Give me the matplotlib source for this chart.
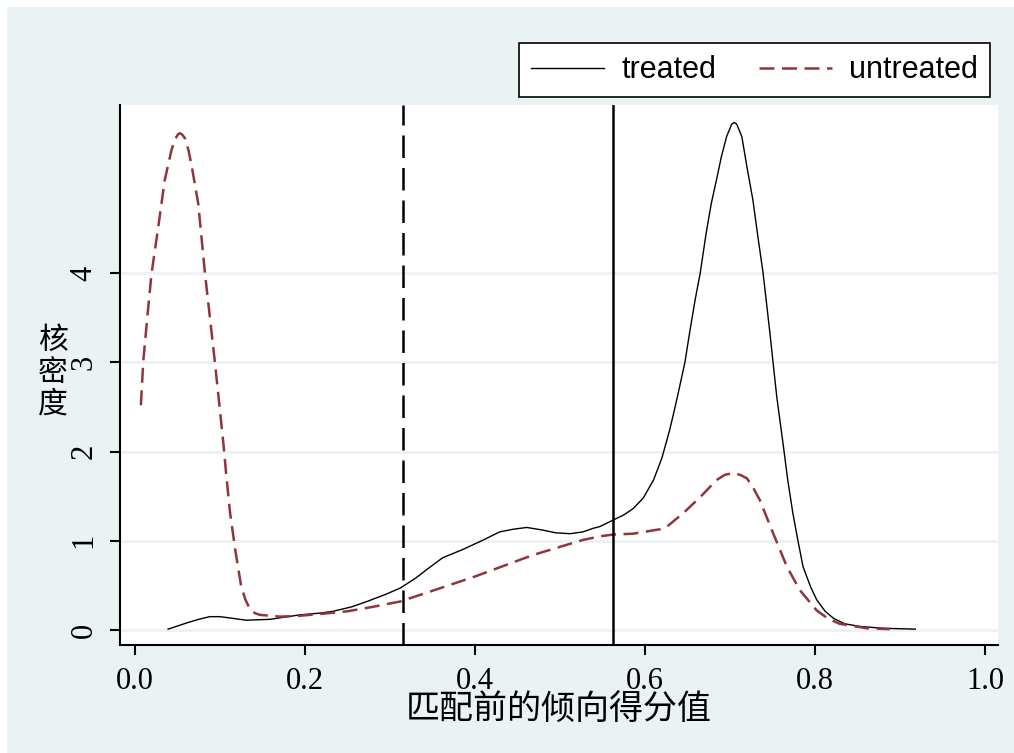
import numpy as np
import matplotlib.pyplot as plt
from matplotlib.patches import Rectangle

# kernel density
treated_x = [0.039, 0.061, 0.075, 0.088, 0.100, 0.108, 0.131, 0.159, 0.194, 0.218,
             0.233, 0.255, 0.273, 0.295, 0.312, 0.330, 0.345, 0.362, 0.385, 0.410,
             0.429, 0.445, 0.461, 0.480, 0.495, 0.512, 0.527, 0.539, 0.547, 0.562,
             0.575, 0.586, 0.598, 0.610, 0.620, 0.629, 0.634, 0.639, 0.647, 0.653,
             0.659, 0.665, 0.672, 0.678, 0.684, 0.690, 0.696, 0.702, 0.705, 0.708,
             0.714, 0.720, 0.727, 0.733, 0.739, 0.747, 0.755, 0.763, 0.768, 0.774,
             0.780, 0.786, 0.795, 0.802, 0.812, 0.822, 0.835, 0.853, 0.880, 0.918]
treated_y = [0.01, 0.08, 0.12, 0.15, 0.15, 0.14, 0.11, 0.12, 0.17, 0.19,
             0.21, 0.26, 0.32, 0.40, 0.47, 0.58, 0.69, 0.81, 0.90, 1.01,
             1.10, 1.13, 1.15, 1.12, 1.09, 1.08, 1.10, 1.14, 1.16, 1.23,
             1.29, 1.36, 1.48, 1.68, 1.93, 2.24, 2.44, 2.65, 3.00, 3.36,
             3.70, 4.00, 4.45, 4.78, 5.04, 5.31, 5.53, 5.67, 5.69, 5.67,
             5.53, 5.19, 4.82, 4.40, 4.00, 3.33, 2.62, 2.05, 1.68, 1.31,
             1.00, 0.71, 0.48, 0.34, 0.21, 0.13, 0.07, 0.04, 0.02, 0.01]

untreated_x = [0.007, 0.0098, 0.015, 0.0196, 0.0275, 0.035, 0.043, 0.047, 0.051, 0.053,
               0.056, 0.059, 0.063, 0.067, 0.0745, 0.0824, 0.094, 0.104, 0.108, 0.112,
               0.118, 0.125, 0.130, 0.135, 0.141, 0.147, 0.171, 0.194, 0.218, 0.250,
               0.280, 0.312, 0.350, 0.400, 0.468, 0.527, 0.547, 0.562, 0.586, 0.618,
               0.626, 0.645, 0.665, 0.684, 0.694, 0.704, 0.712, 0.720, 0.727, 0.735,
               0.751, 0.767, 0.782, 0.802, 0.815, 0.829, 0.861, 0.888]
untreated_y = [2.52, 3.01, 3.55, 4.00, 4.52, 5.04, 5.38, 5.50, 5.56, 5.57,
               5.55, 5.51, 5.38, 5.19, 4.78, 4.00, 3.01, 2.10, 1.68, 1.31,
               0.90, 0.49, 0.34, 0.24, 0.19, 0.17, 0.15, 0.16, 0.18, 0.21,
               0.26, 0.32, 0.44, 0.60, 0.84, 1.01, 1.05, 1.07, 1.08, 1.13,
               1.16, 1.31, 1.49, 1.68, 1.74, 1.76, 1.74, 1.70, 1.60, 1.46,
               1.08, 0.71, 0.45, 0.22, 0.13, 0.07, 0.02, 0.01]

cut_dashed = 0.315
cut_solid = 0.562
xticks = [0.0, 0.2, 0.4, 0.6, 0.8, 1.0]
xticklabels = ['0.0', '0.2', '0.4', '0.6', '0.8', '1.0']
yticks = [0, 1, 2, 3, 4]
ytitle = '核密度'

bg = '#EAF2F3'
maroon = '#90353B'
cjk = ['Noto Sans CJK SC', 'DejaVu Sans']

fig = plt.figure(figsize=(10.14, 7.53), dpi=100)
fig.patches.append(Rectangle((7 / 1014, 0), 1, 1 - 7 / 753, transform=fig.transFigure,
                             facecolor=bg, edgecolor='none', zorder=-10))
ax = fig.add_axes([0.1183, 0.1434, 0.8659, 0.7172])
ax.set_facecolor('white')

ax.plot(treated_x, treated_y, color='black', lw=1.0, label='treated')
ax.plot(untreated_x, untreated_y, color=maroon, lw=1.8, dashes=(6, 3), label='untreated')
ax.axvline(cut_dashed, color='black', lw=1.8, dashes=(9, 4))
ax.axvline(cut_solid, color='black', lw=1.8)

ax.set_xlim(-0.0176, 1.0153)
ax.set_ylim(-0.168, 5.886)
ax.set_xticks(xticks)
ax.set_xticklabels(xticklabels, family='Liberation Serif', fontsize=22)
ax.set_yticks(yticks)
ax.set_yticklabels([str(t) for t in yticks], family='Liberation Serif', fontsize=22,
                   rotation=90, va='center')
ax.yaxis.grid(True, color=bg, lw=2)
ax.set_axisbelow(True)
for s in ['top', 'right']:
    ax.spines[s].set_visible(False)
for s in ['left', 'bottom']:
    ax.spines[s].set_linewidth(1.5)
ax.tick_params(direction='out', length=7.5, width=1.5, pad=8)

ax.set_xlabel('匹配前的倾向得分值', family=cjk, fontsize=24.5, labelpad=-2)
# y title: characters stacked upright, one text per character
for i, ch in enumerate(ytitle):
    ax.text(-0.0763, 0.564 - i * 0.0593, ch, transform=ax.transAxes, family=cjk,
            fontsize=21.5, ha='center', va='center')

leg = fig.legend(loc='upper right', bbox_to_anchor=(990 / 1014, 1 - 43 / 753), ncol=2,
                 prop={'family': 'Liberation Sans', 'size': 22}, frameon=True,
                 fancybox=False, framealpha=1, edgecolor='black', handlelength=2.4,
                 columnspacing=1.4, borderpad=0.4, handletextpad=0.55, borderaxespad=0)
leg.get_frame().set_linewidth(1.2)

fig.savefig('out.png', dpi=100)
